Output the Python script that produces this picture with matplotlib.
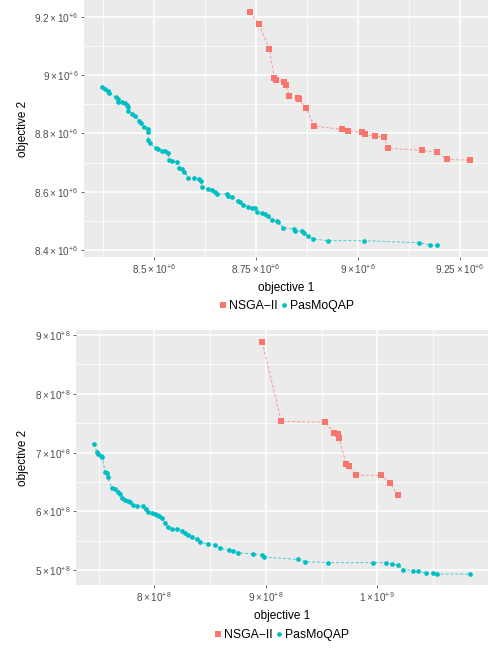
import matplotlib
matplotlib.use("Agg")
import matplotlib.pyplot as plt
from matplotlib.lines import Line2D
import numpy as np

plt.rcParams['font.family'] = ['Liberation Sans', 'DejaVu Sans']
plt.rcParams['mathtext.fontset'] = 'custom'
plt.rcParams['mathtext.rm'] = 'Liberation Sans'
plt.rcParams['mathtext.it'] = 'Liberation Sans'

RED = '#F8766D'
CYAN = '#00BFC4'

# top instance, values in units of 1e6
nsga1_x = [8.736, 8.757, 8.783, 8.795, 8.798, 8.819, 8.823, 8.832, 8.854, 8.856,
           8.872, 8.893, 8.962, 8.976, 9.011, 9.018, 9.042, 9.064, 9.074, 9.157,
           9.194, 9.219, 9.275]
nsga1_y = [9.216, 9.175, 9.089, 8.990, 8.983, 8.976, 8.965, 8.928, 8.921, 8.917,
           8.887, 8.825, 8.814, 8.808, 8.804, 8.797, 8.790, 8.787, 8.749, 8.742,
           8.735, 8.711, 8.708]
pas1_x = [8.373, 8.380, 8.387, 8.390, 8.406, 8.411, 8.412, 8.422, 8.429, 8.433,
          8.436, 8.437, 8.445, 8.452, 8.463, 8.468, 8.474, 8.485, 8.486, 8.485,
          8.490, 8.504, 8.509, 8.519, 8.527, 8.534, 8.537, 8.543, 8.556, 8.560,
          8.569, 8.574, 8.584, 8.599, 8.609, 8.615, 8.617, 8.633, 8.641, 8.650,
          8.654, 8.678, 8.682, 8.690, 8.705, 8.711, 8.719, 8.731, 8.739, 8.748,
          8.752, 8.765, 8.772, 8.780, 8.788, 8.801, 8.805, 8.817, 8.843, 8.846,
          8.863, 8.867, 8.877, 8.890, 8.926, 9.014, 9.149, 9.176, 9.193]
pas1_y = [8.959, 8.952, 8.946, 8.940, 8.924, 8.917, 8.909, 8.909, 8.904, 8.898,
          8.890, 8.878, 8.866, 8.860, 8.844, 8.837, 8.823, 8.814, 8.806, 8.778,
          8.768, 8.749, 8.746, 8.741, 8.740, 8.732, 8.709, 8.706, 8.703, 8.683,
          8.677, 8.669, 8.648, 8.646, 8.643, 8.638, 8.615, 8.609, 8.606, 8.600,
          8.592, 8.592, 8.585, 8.583, 8.568, 8.564, 8.555, 8.549, 8.545, 8.543,
          8.532, 8.528, 8.523, 8.518, 8.503, 8.500, 8.495, 8.477, 8.472, 8.465,
          8.465, 8.459, 8.449, 8.438, 8.432, 8.432, 8.425, 8.417, 8.417]

# bottom instance, values in units of 1e8
nsga2_x = [8.969, 9.139, 9.534, 9.614, 9.650, 9.659, 9.722, 9.749, 9.812, 10.036,
           10.117, 10.183]
nsga2_y = [8.876, 7.533, 7.516, 7.329, 7.312, 7.244, 6.802, 6.768, 6.615, 6.615,
           6.479, 6.280]
pas2_x = [7.462, 7.483, 7.498, 7.519, 7.534, 7.558, 7.573, 7.582, 7.618, 7.648,
          7.677, 7.692, 7.708, 7.737, 7.761, 7.782, 7.812, 7.842, 7.901, 7.923,
          7.946, 7.977, 8.006, 8.022, 8.042, 8.066, 8.096, 8.120, 8.161, 8.201,
          8.246, 8.275, 8.305, 8.341, 8.380, 8.410, 8.484, 8.544, 8.589, 8.673,
          8.709, 8.753, 8.883, 8.970, 8.987, 9.286, 9.352, 9.555, 9.959, 10.078,
          10.135, 10.188, 10.233, 10.323, 10.368, 10.434, 10.497, 10.538, 10.831]
pas2_y = [7.147, 7.016, 6.977, 6.943, 6.921, 6.676, 6.649, 6.581, 6.404, 6.382,
          6.336, 6.297, 6.224, 6.195, 6.178, 6.166, 6.110, 6.093, 6.093, 6.037,
          5.996, 5.979, 5.957, 5.940, 5.923, 5.884, 5.809, 5.731, 5.702, 5.697,
          5.673, 5.639, 5.600, 5.571, 5.527, 5.486, 5.442, 5.430, 5.371, 5.345,
          5.328, 5.300, 5.277, 5.260, 5.226, 5.184, 5.147, 5.130, 5.130, 5.130,
          5.107, 5.090, 5.011, 4.994, 4.983, 4.954, 4.954, 4.937, 4.937]

top_xticks = [8.5, 8.75, 9.0, 9.25]
top_xlabels = [r'$8.5\times10^{+6}$', r'$8.75\times10^{+6}$', r'$9\times10^{+6}$', r'$9.25\times10^{+6}$']
top_yticks = [8.4, 8.6, 8.8, 9.0, 9.2]
top_ylabels = [r'$8.4\times10^{+6}$', r'$8.6\times10^{+6}$', r'$8.8\times10^{+6}$', r'$9\times10^{+6}$', r'$9.2\times10^{+6}$']
bot_xticks = [8.0, 9.0, 10.0]
bot_xlabels = [r'$8\times10^{+8}$', r'$9\times10^{+8}$', r'$1\times10^{+9}$']
bot_yticks = [5, 6, 7, 8, 9]
bot_ylabels = [r'$5\times10^{+8}$', r'$6\times10^{+8}$', r'$7\times10^{+8}$', r'$8\times10^{+8}$', r'$9\times10^{+8}$']


def style(ax, xt, xl, yt, yl, xminor, yminor, xlim, ylim):
    ax.set_facecolor('#EBEBEB')
    for s in ax.spines.values():
        s.set_visible(False)
    ax.set_xticks(xt)
    ax.set_xticklabels(xl)
    ax.set_yticks(yt)
    ax.set_yticklabels(yl)
    ax.set_xticks(xminor, minor=True)
    ax.set_yticks(yminor, minor=True)
    ax.grid(True, which='major', color='white', linewidth=1.1)
    ax.grid(True, which='minor', color='white', linewidth=0.55)
    ax.set_axisbelow(True)
    ax.tick_params(which='major', length=2.5, width=0.5, color='#333333',
                   labelsize=7.2, labelcolor='#4D4D4D', pad=1.5)
    ax.tick_params(which='minor', length=0)
    ax.set_xlim(*xlim)
    ax.set_ylim(*ylim)
    ax.set_xlabel('objective 1', fontsize=8.5, labelpad=4)
    ax.set_ylabel('objective 2', fontsize=8.5, labelpad=4)


def draw(ax, nx, ny, px, py):
    ax.plot(nx, ny, color=RED, linestyle=(0, (3, 2)), linewidth=0.7, alpha=0.7)
    ax.plot(nx, ny, 's', color=RED, markersize=4.2, markeredgewidth=0)
    ax.plot(px, py, color=CYAN, linestyle=(0, (3, 2)), linewidth=0.7, alpha=0.7)
    ax.plot(px, py, 'o', color=CYAN, markersize=3.4, markeredgewidth=0)


fig = plt.figure(figsize=(4.92, 6.48), dpi=100)
ax1 = fig.add_axes([84 / 492, 1 - 257 / 648, 404 / 492, 257 / 648])
ax2 = fig.add_axes([76 / 492, 1 - 585 / 648, 412 / 492, 255 / 648])

draw(ax1, nsga1_x, nsga1_y, pas1_x, pas1_y)
style(ax1, top_xticks, top_xlabels, top_yticks, top_ylabels,
      [8.375, 8.625, 8.875, 9.125], [8.5, 8.7, 8.9, 9.1],
      (8.328, 9.319), (8.376, 9.258))

draw(ax2, nsga2_x, nsga2_y, pas2_x, pas2_y)
style(ax2, bot_xticks, bot_xlabels, bot_yticks, bot_ylabels,
      [7.5, 8.5, 9.5, 10.5], [5.5, 6.5, 7.5, 8.5],
      (7.298, 10.993), (4.75, 9.085))

handles = [
    Line2D([], [], color=RED, marker='s', markersize=4.2, linestyle='none', markeredgewidth=0),
    Line2D([], [], color=CYAN, marker='o', markersize=3.4, linestyle='none', markeredgewidth=0),
]
for yc, xc in [(1 - 306 / 648, 287 / 492), (1 - 635 / 648, 282 / 492)]:
    fig.legend(handles, ['NSGA\u2212II', 'PasMoQAP'], loc='center', bbox_to_anchor=(xc, yc),
               ncol=2, frameon=False, fontsize=8.8, handlelength=0.6, handletextpad=0.2,
               columnspacing=0.2, borderpad=0)

fig.savefig('out.png', dpi=100)
